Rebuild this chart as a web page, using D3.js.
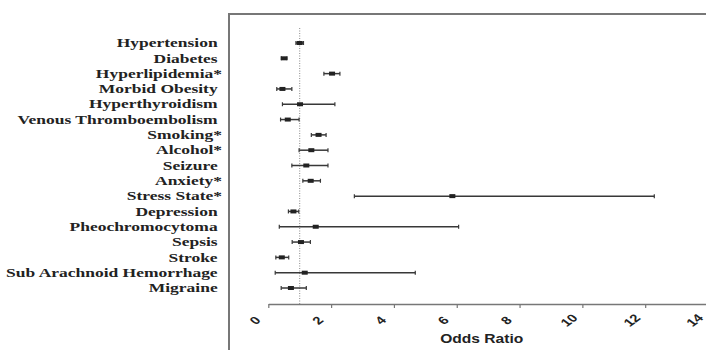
<!DOCTYPE html>
<html>
<head>
<meta charset="utf-8">
<script src="https://cdn.jsdelivr.net/npm/d3@7/dist/d3.min.js"></script>
<style>
  body { margin: 0; background: #fff; }
</style>
</head>
<body>
<div id="chart"></div>
<script>
// risk factors, top to bottom
var factors = ["Hypertension", "Diabetes", "Hyperlipidemia*", "Morbid Obesity", "Hyperthyroidism",
  "Venous Thromboembolism", "Smoking*", "Alcohol*", "Seizure", "Anxiety*", "Stress State*",
  "Depression", "Pheochromocytoma", "Sepsis", "Stroke", "Sub Arachnoid Hemorrhage", "Migraine"];
var oddsRatio = [1.00, 0.50, 2.03, 0.45, 1.01, 0.62, 1.60, 1.37, 1.21, 1.35, 5.86, 0.80, 1.51, 1.04, 0.43, 1.16, 0.72];
var ciLow     = [0.88, 0.41, 1.77, 0.27, 0.45, 0.39, 1.37, 0.98, 0.75, 1.10, 2.74, 0.64, 0.35, 0.76, 0.24, 0.22, 0.41];
var ciHigh    = [1.12, 0.60, 2.28, 0.75, 2.12, 0.98, 1.84, 1.90, 1.90, 1.66, 12.29, 0.97, 6.06, 1.34, 0.65, 4.68, 1.21];
var xTicks = [0, 2, 4, 6, 8, 10, 12, 14];
var refValue = 1;

var width = 706, height = 350;
var ink = "#383838";

var rows = factors.map(function(f, i){
  return { name: f, or: oddsRatio[i], lo: ciLow[i], hi: ciHigh[i] };
});

var svg = d3.select("#chart").append("svg")
  .attr("width", width)
  .attr("height", height);

svg.append("rect").attr("width", width).attr("height", height).attr("fill", "#fff");

var x = d3.scaleLinear().domain([0, 14]).range([268.3, 708]);
var y = d3.scalePoint().domain(factors).range([43, 288]);
var axisY = 304;

// plot frame (runs off the right and bottom edge)
svg.append("path")
  .attr("d", "M229,352V14H708")
  .attr("fill", "none")
  .attr("stroke", "#777")
  .attr("stroke-width", 2);

// reference line at OR = 1
svg.append("line")
  .attr("x1", x(refValue)).attr("x2", x(refValue))
  .attr("y1", 28).attr("y2", axisY)
  .attr("stroke", "#888")
  .attr("stroke-width", 1)
  .attr("stroke-dasharray", "1,1.5");

// x axis
var xAxis = d3.axisBottom(x)
  .tickValues(xTicks)
  .tickSize(4)
  .tickSizeOuter(0)
  .tickFormat(d3.format("d"));

var gx = svg.append("g")
  .attr("transform", "translate(0," + axisY + ")")
  .call(xAxis);

gx.select(".domain").attr("stroke", "#777").attr("stroke-width", 1.5);
gx.selectAll(".tick line").attr("stroke", "#777").attr("stroke-width", 1.2);
gx.selectAll(".tick text")
  .attr("y", null).attr("dy", null)
  .attr("fill", "#222")
  .attr("font-family", "Liberation Sans, Arial, sans-serif")
  .attr("font-weight", "bold")
  .attr("font-size", 11)
  .attr("text-anchor", "middle")
  .attr("transform", "translate(-13,17) scale(1.35,1) rotate(-45)")
  .attr("dominant-baseline", "middle");

svg.append("text")
  .attr("transform", "translate(481.7,342.5) scale(1.3,1)")
  .attr("text-anchor", "middle")
  .attr("font-family", "Liberation Sans, Arial, sans-serif")
  .attr("font-weight", "bold")
  .attr("font-size", 12)
  .attr("fill", "#222")
  .text("Odds Ratio");

// row labels
svg.append("g").selectAll("text")
  .data(rows)
  .enter()
  .append("text")
    .attr("transform", function(d){ return "translate(222," + (y(d.name) + 4.2) + ") scale(1.52,1)"; })
    .attr("text-anchor", "end")
    .attr("font-family", "Liberation Serif, Times New Roman, serif")
    .attr("font-weight", "bold")
    .attr("font-size", 11.5)
    .attr("fill", "#222")
    .text(function(d){ return d.name.slice(-1) == "*" ? d.name : d.name + "\u00a0"; });

// confidence intervals
var bars = svg.append("g").selectAll("g")
  .data(rows)
  .enter()
  .append("g")
    .attr("transform", function(d){ return "translate(0," + y(d.name) + ")"; });

bars.append("line")
  .attr("x1", function(d){ return x(d.lo); })
  .attr("x2", function(d){ return x(d.hi); })
  .attr("stroke", ink)
  .attr("stroke-width", 1.5);

bars.selectAll(".cap")
  .data(function(d){ return [d.lo, d.hi]; })
  .enter()
  .append("line")
    .attr("class", "cap")
    .attr("x1", function(v){ return x(v); })
    .attr("x2", function(v){ return x(v); })
    .attr("y1", -2).attr("y2", 2)
    .attr("stroke", ink)
    .attr("stroke-width", 1.2);

bars.append("rect")
  .attr("x", function(d){ return x(d.or) - 3; })
  .attr("y", -2)
  .attr("width", 6)
  .attr("height", 4)
  .attr("fill", "#222");
</script>
</body>
</html>
